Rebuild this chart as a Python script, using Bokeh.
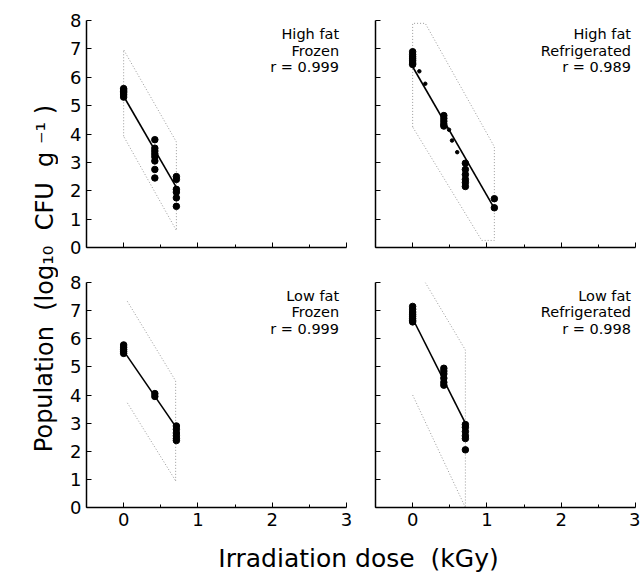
from bokeh.plotting import figure
from bokeh.layouts import row, column
from bokeh.models import FixedTicker, Label, Range1d, CustomJSTickFormatter
from bokeh.embed import file_html
from bokeh.resources import INLINE

# ---------------- data ----------------
x_ticks = [0, 1, 2, 3]
x_minor = [-0.5, 0.5, 1.5, 2.5]
y_ticks = [0, 1, 2, 3, 4, 5, 6, 7, 8]

# High fat, frozen
hff_dose = [0, 0, 0, 0, 0, 0, 0.42, 0.42, 0.42, 0.42, 0.42, 0.42, 0.42, 0.42,
            0.71, 0.71, 0.71, 0.71, 0.71, 0.71]
hff_pop = [5.3, 5.38, 5.45, 5.5, 5.55, 5.6, 3.8, 3.5, 3.4, 3.3, 3.2, 3.05, 2.75, 2.45,
           2.5, 2.4, 2.05, 1.95, 1.75, 1.45]
hff_fit_dose = [0, 0.71]
hff_fit_pop = [5.33, 2.12]
hff_band_dose = [[0, 0, 0.71, 0.71, 0]]
hff_band_pop = [[3.92, 6.97, 3.72, 0.6, 3.92]]
hff_text = ["High fat", "Frozen", "r = 0.999"]

# High fat, refrigerated
hfr_dose = [0, 0, 0, 0, 0, 0, 0, 0.42, 0.42, 0.42, 0.42, 0.42,
            0.71, 0.71, 0.71, 0.71, 0.71, 0.71, 1.1, 1.1]
hfr_pop = [6.9, 6.8, 6.72, 6.65, 6.58, 6.5, 6.45, 4.65, 4.55, 4.45, 4.35, 4.28,
           2.97, 2.75, 2.57, 2.4, 2.29, 2.15, 1.72, 1.4]
hfr_small_dose = [0.09, 0.17, 0.49, 0.53, 0.6]
hfr_small_pop = [6.21, 5.77, 4.15, 3.77, 3.36]
hfr_fit_dose = [0, 1.1]
hfr_fit_pop = [6.37, 1.38]
hfr_band_dose = [[0, 0, 0.17, 1.1, 1.1, 0.93, 0]]
hfr_band_pop = [[4.25, 7.9, 7.9, 3.55, 0.25, 0.25, 4.25]]
hfr_text = ["High fat", "Refrigerated", "r = 0.989"]

# Low fat, frozen
lff_dose = [0, 0, 0, 0, 0, 0.42, 0.42, 0.71, 0.71, 0.71, 0.71, 0.71, 0.71]
lff_pop = [5.78, 5.7, 5.62, 5.55, 5.48, 4.05, 3.95, 2.9, 2.78, 2.65, 2.55, 2.45, 2.38]
lff_fit_dose = [0, 0.71]
lff_fit_pop = [5.57, 2.84]
lff_band_dose = [[0.05, 0.7, 0.7], [0.05, 0.7]]
lff_band_pop = [[7.33, 4.5, 0.95], [3.72, 0.95]]
lff_text = ["Low fat", "Frozen", "r = 0.999"]

# Low fat, refrigerated
lfr_dose = [0, 0, 0, 0, 0, 0, 0, 0, 0.42, 0.42, 0.42, 0.42, 0.42, 0.42,
            0.71, 0.71, 0.71, 0.71, 0.71, 0.71]
lfr_pop = [7.15, 7.05, 6.95, 6.87, 6.8, 6.72, 6.65, 6.6, 4.95, 4.85, 4.75, 4.6, 4.45, 4.35,
           2.95, 2.85, 2.7, 2.55, 2.45, 2.05]
lfr_fit_dose = [0, 0.71]
lfr_fit_pop = [6.72, 3.0]
lfr_band_dose = [[0.17, 0.71, 0.71], [0, 0.71]]
lfr_band_pop = [[8.0, 5.6, 0.0], [4.0, 0.0]]
lfr_text = ["Low fat", "Refrigerated", "r = 0.998"]

NB = "\u00a0"
FONT = "DejaVu Sans"
EMPTY = CustomJSTickFormatter(code="return ''")


def make_panel(dose, pop, fit_d, fit_p, band_d, band_p, texts, text_x,
               frame_h, mb, show_x, show_y, small_d=None, small_p=None):
    p = figure(frame_width=260, frame_height=frame_h,
               x_range=Range1d(-0.5, 3), y_range=Range1d(0, 8),
               output_backend="svg", toolbar_location=None,
               min_border_left=mb[0], min_border_right=mb[1],
               min_border_top=mb[2], min_border_bottom=mb[3])
    p.outline_line_color = None
    p.grid.visible = False
    p.background_fill_color = "white"
    p.border_fill_color = "white"

    xa = p.xaxis[0]
    xa.ticker = FixedTicker(ticks=x_ticks, minor_ticks=x_minor)
    xa.major_tick_in = 5
    xa.major_tick_out = 0
    xa.minor_tick_in = 3
    xa.minor_tick_out = 0
    ya = p.yaxis[0]
    ya.ticker = FixedTicker(ticks=y_ticks, minor_ticks=[])
    ya.major_tick_in = 5
    ya.major_tick_out = 0
    for ax in (xa, ya):
        ax.axis_line_width = 1.5
        ax.axis_line_color = "black"
        ax.major_tick_line_color = "black"
        ax.major_tick_line_width = 1
        ax.minor_tick_line_color = "black" if ax is xa else None
        ax.major_label_text_font = FONT
        ax.major_label_text_font_size = "18px"
        ax.major_label_text_color = "black"
    xa.major_label_standoff = 5
    ya.major_label_standoff = 5
    if not show_x:
        xa.formatter = EMPTY
    if not show_y:
        ya.formatter = EMPTY

    p.multi_line(band_d, band_p, line_color="#9a9a9a", line_width=1, line_dash="1 2")
    p.line(fit_d, fit_p, line_color="black", line_width=1.6)
    p.scatter(dose, pop, size=6.5, color="black")
    if small_d is not None:
        p.scatter(small_d, small_p, size=3.5, color="black")

    for txt, yy in zip(texts, [7.53, 6.94, 6.35]):
        p.add_layout(Label(x=text_x, y=yy, text=txt, text_align="right",
                           text_baseline="alphabetic", text_font=FONT,
                           text_font_size="14.5px", text_color="black"))
    return p


p1 = make_panel(hff_dose, hff_pop, hff_fit_dose, hff_fit_pop, hff_band_dose, hff_band_pop,
                hff_text, 2.9, 227, (28, 14, 20, 14), False, True)
p2 = make_panel(hfr_dose, hfr_pop, hfr_fit_dose, hfr_fit_pop, hfr_band_dose, hfr_band_pop,
                hfr_text, 2.94, 227, (15, 5, 20, 14), False, False,
                hfr_small_dose, hfr_small_pop)
p3 = make_panel(lff_dose, lff_pop, lff_fit_dose, lff_fit_pop, lff_band_dose, lff_band_pop,
                lff_text, 2.9, 225, (28, 14, 21, 30), True, True)
p4 = make_panel(lfr_dose, lfr_pop, lfr_fit_dose, lfr_fit_pop, lfr_band_dose, lfr_band_pop,
                lfr_text, 2.94, 225, (15, 5, 21, 30), True, False)


def blank(w, h):
    f = figure(width=w, height=h, output_backend="svg", toolbar_location=None,
               x_axis_location=None, y_axis_location=None,
               min_border=0, x_range=Range1d(0, 1), y_range=Range1d(0, 1))
    f.outline_line_color = None
    f.grid.visible = False
    return f


ylab = blank(58, 578)
ylab.add_layout(Label(x=44, y=300, x_units="screen", y_units="screen",
                      text="Population" + NB + NB + "(log\u2081\u2080" + NB + NB + "CFU" + NB + NB
                           + "g" + NB + "\u207b\u00b9" + NB + ")",
                      angle=1.5707963, text_align="center", text_baseline="alphabetic",
                      text_font=FONT, text_font_size="24px", text_color="black"))

xlab = blank(582, 41)
xlab.add_layout(Label(x=300, y=20, x_units="screen", y_units="screen",
                      text="Irradiation dose" + NB + NB + "(kGy)", text_align="center",
                      text_baseline="alphabetic", text_font=FONT,
                      text_font_size="25px", text_color="black"))

layout = row(ylab, column(row(p1, p2), row(p3, p4), xlab))

open("out.html", "w").write(file_html(layout, INLINE))
